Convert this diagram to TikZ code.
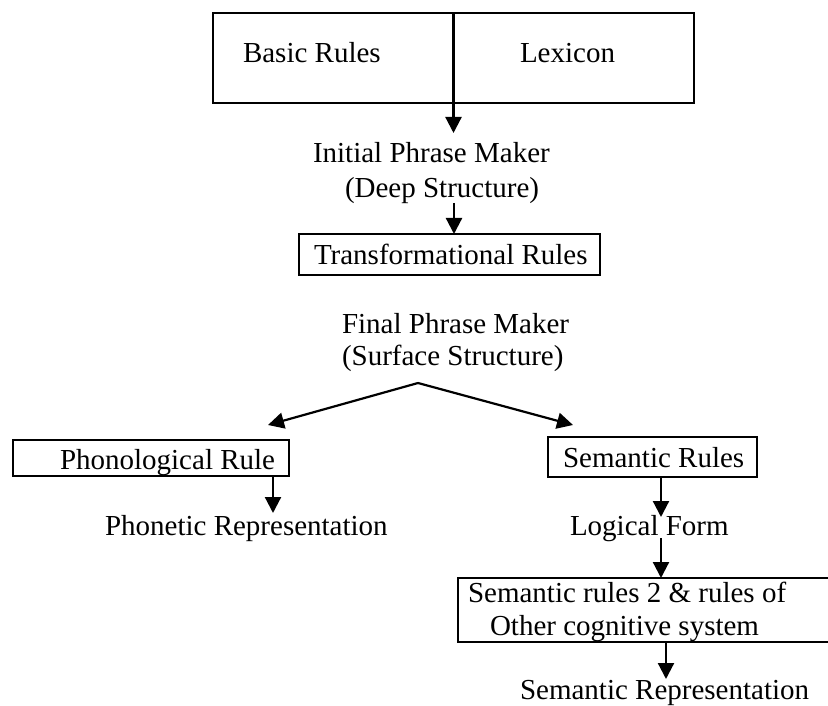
\documentclass[tikz,border=0pt]{standalone}
\usepackage{fontspec}
\setmainfont{Liberation Serif}
\usetikzlibrary{arrows.meta}
\begin{document}
\begin{tikzpicture}[x=1pt,y=-1pt,
  txt/.style={inner sep=0pt,outer sep=0pt,anchor=base west,font=\fontsize{29}{34}\selectfont},
  box/.style={draw,line width=2.2pt,inner sep=0pt,outer sep=0pt},
  arr/.style={line width=2.2pt,-{Triangle[length=16pt,width=16pt]}}]
\useasboundingbox (0,0) rectangle (828,706);

% boxes
\node[box,minimum width=481pt,minimum height=90pt] (top) at (453.5,58) {};
\node[box,minimum width=301pt,minimum height=41pt] (trans) at (449.5,254.5) {};
\node[box,minimum width=276pt,minimum height=36pt] (phon) at (151,458) {};
\node[box,minimum width=209pt,minimum height=40pt] (sem) at (652.5,457) {};
\node[box,minimum width=382pt,minimum height=64pt] (big) at (649,610) {};

% texts
\node[txt] (basic) at (243,63) {Basic Rules};
\node[txt] (lex) at (520,63) {Lexicon};
\node[txt] (init1) at (313,163) {Initial Phrase Maker};
\node[txt] (init2) at (345,197) {(Deep Structure)};
\node[txt] (transT) at (314,265) {Transformational Rules};
\node[txt] (fin1) at (342,333) {Final Phrase Maker};
\node[txt] (fin2) at (342,365) {(Surface Structure)};
\node[txt] (phonT) at (60,469) {Phonological Rule};
\node[txt] (phonet) at (105,535) {Phonetic Representation};
\node[txt] (semT) at (563,467) {Semantic Rules};
\node[txt] (logic) at (570,535) {Logical Form};
\node[txt] (big1) at (468,602) {Semantic rules 2 \& rules of};
\node[txt] (big2) at (490,635) {Other cognitive system};
\node[txt] (semrep) at (520,699) {Semantic Representation};

% connector end points
\coordinate (t1) at (453.5,133);
\coordinate (d1) at (454,203);
\coordinate (apex) at (418,383);
\coordinate (lt) at (268,425);
\coordinate (rt) at (573,425);
\coordinate (p1) at (273,476);
\coordinate (p2) at (273,513);
\coordinate (s1) at (661,477);
\coordinate (s2) at (661,517);
\coordinate (l1) at (661,538);
\coordinate (b1) at (666,642);
\coordinate (b2) at (666,679);

% connectors
\draw[arr] (top.north) -- (t1);
\draw[arr] (d1) -- (d1 |- trans.north);
\draw[arr] (apex) -- (lt);
\draw[arr] (apex) -- (rt);
\draw[arr] (p1) -- (p2);
\draw[arr] (s1) -- (s2);
\draw[arr] (l1) -- (l1 |- big.north);
\draw[arr] (b1) -- (b2);
\end{tikzpicture}
\end{document}
